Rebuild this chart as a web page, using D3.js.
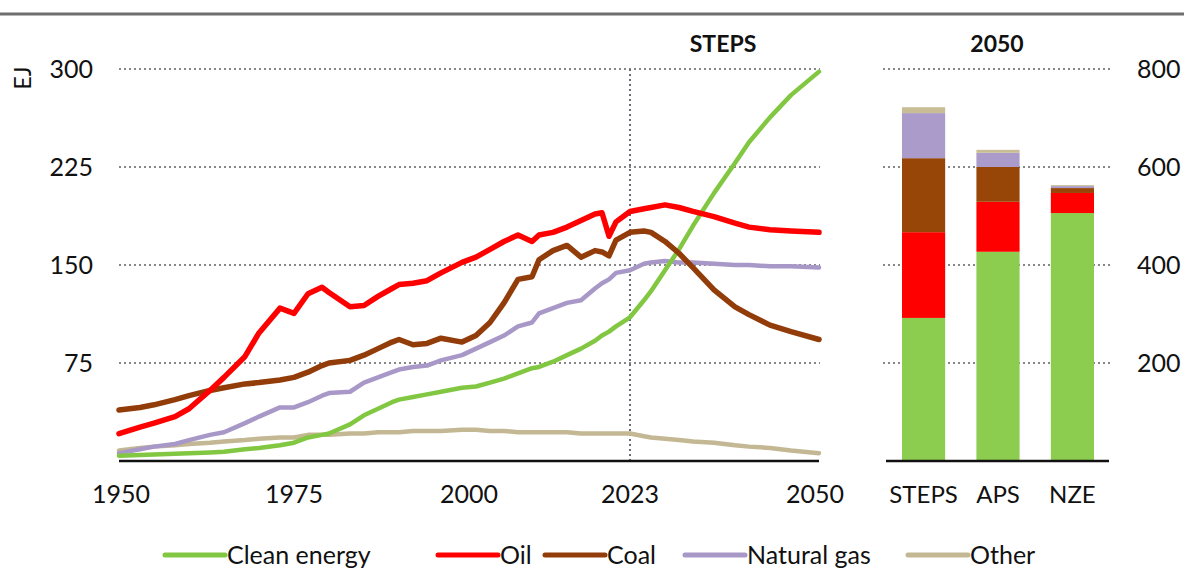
<!DOCTYPE html>
<html>
<head>
<meta charset="utf-8">
<script src="https://cdn.jsdelivr.net/npm/d3@7"></script>
<style>
  html, body { margin: 0; padding: 0; background: #fff; }
  svg { display: block; font-family: Lato, "Open Sans", sans-serif; }
</style>
</head>
<body>
<svg id="chart" width="1184" height="570"></svg>
<script>
// ---------- DATA ----------
const years = [1950,1953,1955,1958,1960,1963,1965,1968,1970,1973,1975,1977,1979,1980,1983,1985,1987,1989,1990,1992,1994,1996,1999,2001,2003,2005,2007,2009,2010,2012,2014,2016,2018,2019,2020,2021,2023,2025,2026,2028,2030,2032,2035,2038,2040,2043,2046,2050];
const cleanEnergy = [4,4.5,5,5.5,6,6.5,7,9,10,12,14,18,20,21,28,35,40,45,47,49,51,53,56,57,60,63,67,71,72,76,81,86,92,96,99,103,110,123,130,146,162,180,205,228,244,263,280,298];
const oil = [21,26,29,34,40,54,64,80,98,117,113,128,133,129,118,119,126,132,135,136,138,144,152,156,162,168,173,168,173,175,179,184,189,190,172,183,191,193,194,196,194,191,187,182,179,177,176,175];
const coal = [39,41,43,47,50,54,56,59,60,62,64,68,73,75,77,81,86,91,93,89,90,94,91,96,106,121,139,141,154,161,165,156,161,160,157,169,175,176,175,168,159,148,131,118,112,104,99,93];
const naturalGas = [6,9,11,13,16,20,22,29,34,41,41,45,50,52,53,60,64,68,70,72,73,77,81,86,91,96,103,106,113,117,121,123,132,136,139,144,146,151,152,153,152,152,151,150,150,149,149,148];
const other = [8,10,11,12,13,14,15,16,17,18,18,20,20,20,21,21,22,22,22,23,23,23,24,24,23,23,22,22,22,22,22,21,21,21,21,21,21,19,18,17,16,15,14,12,11,10,8,6];

const seriesNames = ["Clean energy","Oil","Coal","Natural gas","Other"];
const lineColors = ["#82c741","#ff0000","#923c0a","#a898c8","#c3b794"];

const leftTicks = [75,150,225,300];
const xTickYears = [1950,1975,2000,2023,2050];
const rightTicks = [200,400,600,800];

const scenarios = ["STEPS","APS","NZE"];
// stacked bars in 2050 (bottom to top): clean, oil, coal, gas, other
const barClean = [292,427,506];
const barOil = [175,102,41];
const barCoal = [151,71,10];
const barGas = [92,29,4];
const barOther = [12,6,2];
const barColors = ["#8ccc4f","#ff0000","#974607","#ab9bca","#c9bd96"];

// ---------- LAYOUT ----------
const svg = d3.select("#chart");

svg.append("line").attr("x1",0).attr("x2",1184).attr("y1",14).attr("y2",14)
  .attr("stroke","#6e6e6e").attr("stroke-width",3);

const x = d3.scaleLinear().domain([1950,2050]).range([119,819]);
const y = d3.scaleLinear().domain([0,300]).range([461,69]);

// left grid
svg.append("g").selectAll("line").data(leftTicks).join("line")
  .attr("x1",119).attr("x2",820).attr("y1",d=>y(d)).attr("y2",d=>y(d))
  .attr("stroke","#878787").attr("stroke-width",2).attr("stroke-dasharray","2,3");

// left tick labels
svg.append("g").selectAll("text").data(leftTicks).join("text")
  .attr("x",93).attr("y",d=>y(d)+9).attr("text-anchor","end")
  .attr("font-size",25).attr("fill","#111").text(d=>d);

// EJ label
svg.append("text").attr("transform","translate(31,78) rotate(-90)")
  .attr("text-anchor","middle").attr("font-size",23).attr("fill","#111").text("EJ");

// vertical 2023 line
svg.append("line").attr("x1",x(2023)).attr("x2",x(2023)).attr("y1",y(300)).attr("y2",y(0))
  .attr("stroke","#6a6a7a").attr("stroke-width",2).attr("stroke-dasharray","2,3");

// lines
const allSeries = [cleanEnergy, oil, coal, naturalGas, other];
const line = d3.line().x((d,i)=>x(years[i])).y(d=>y(d));
const drawOrder = [4,3,0,2,1];
const widths = [4.5,5.5,5.5,4.5,4.5];
drawOrder.forEach(k=>{
  svg.append("path").datum(allSeries[k]).attr("d",line)
    .attr("fill","none").attr("stroke",lineColors[k]).attr("stroke-width",widths[k])
    .attr("stroke-linejoin","round").attr("stroke-linecap","round");
});

// x axis
svg.append("line").attr("x1",119).attr("x2",819).attr("y1",461).attr("y2",461)
  .attr("stroke","#111").attr("stroke-width",2.5);
svg.append("g").selectAll("text").data(xTickYears).join("text")
  .attr("x",d=>x(d)+(d===2050? -4 : (d===1950? 2 : 0))).attr("y",503).attr("text-anchor","middle")
  .attr("font-size",25).attr("fill","#111").text(d=>d);

// STEPS title
svg.append("text").attr("x",723).attr("y",52).attr("text-anchor","middle")
  .attr("font-size",23).attr("font-weight","bold").attr("fill","#111").text("STEPS");

// ---------- RIGHT PANEL ----------
const xb = d3.scaleBand().domain(scenarios).range([886,1110]).paddingInner(0.42).paddingOuter(0.215);
const yb = d3.scaleLinear().domain([0,800]).range([461,69]);

svg.append("g").selectAll("line").data(rightTicks).join("line")
  .attr("x1",883).attr("x2",1110).attr("y1",d=>yb(d)).attr("y2",d=>yb(d))
  .attr("stroke","#878787").attr("stroke-width",2).attr("stroke-dasharray","2,3");

svg.append("g").selectAll("text").data(rightTicks).join("text")
  .attr("x",1137).attr("y",d=>yb(d)+9).attr("text-anchor","start")
  .attr("font-size",25).attr("fill","#111").text(d=>d);

const barLayers = [barClean, barOil, barCoal, barGas, barOther];
const table = scenarios.map((s,i)=>{
  const o = {scenario:s};
  seriesNames.forEach((n,k)=>{ o[n] = barLayers[k][i]; });
  return o;
});
const stacked = d3.stack().keys(seriesNames)(table);
svg.append("g").selectAll("g").data(stacked).join("g")
  .attr("fill",(d,k)=>barColors[k])
  .selectAll("rect").data(d=>d).join("rect")
  .attr("x",d=>xb(d.data.scenario)).attr("width",xb.bandwidth())
  .attr("y",d=>yb(d[1])).attr("height",d=>yb(d[0])-yb(d[1]));

svg.append("line").attr("x1",886).attr("x2",1109).attr("y1",461).attr("y2",461)
  .attr("stroke","#111").attr("stroke-width",2.5);

svg.append("g").selectAll("text").data(scenarios).join("text")
  .attr("x",d=>xb(d)+xb.bandwidth()/2).attr("y",503).attr("text-anchor","middle")
  .attr("font-size",24).attr("fill","#111").text(d=>d);

svg.append("text").attr("x",997).attr("y",52).attr("text-anchor","middle")
  .attr("font-size",23).attr("font-weight","bold").attr("fill","#111").text("2050");

// ---------- LEGEND ----------
const legendX = [165,438,545,685,908];
const lg = svg.append("g");
seriesNames.forEach((n,k)=>{
  lg.append("line").attr("x1",legendX[k]).attr("x2",legendX[k]+60).attr("y1",555).attr("y2",555)
    .attr("stroke",lineColors[k]).attr("stroke-width",5).attr("stroke-linecap","round");
  lg.append("text").attr("x",legendX[k]+62).attr("y",564).attr("font-size",25)
    .attr("fill","#111").text(n);
});
</script>
</body>
</html>
